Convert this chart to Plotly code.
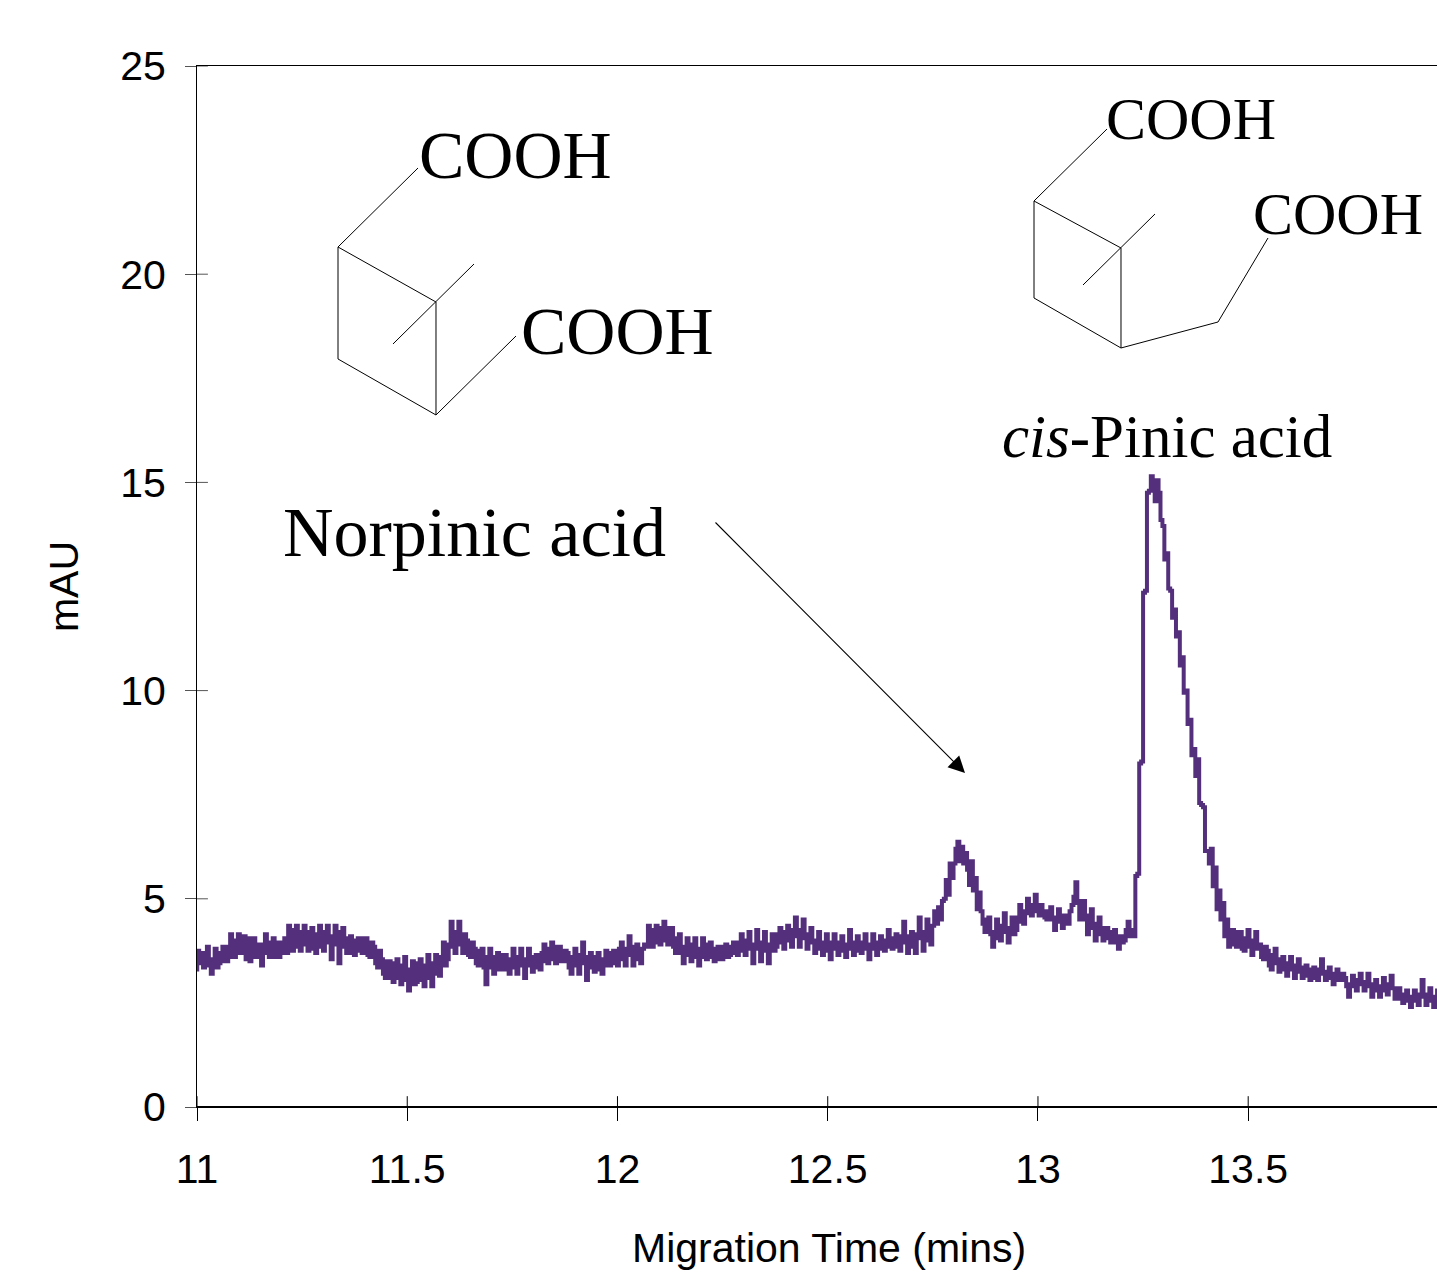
import plotly.graph_objects as go

# Electropherogram: absorbance (mAU) at a regular detector sampling
start_time = 10.996
sample_step = 0.0046
mau = [
    3.3,3.75,3.45,3.7,3.35,3.6,3.85,3.4,3.2,3.55,3.8,3.35,3.45,3.7,3.85,3.5,3.5,3.85,4.15,3.6,
    3.6,4.0,4.15,3.7,3.75,4.1,3.55,4.05,3.5,3.85,4.05,3.6,3.6,3.9,3.4,3.75,4.15,3.7,3.6,3.95,
    4.05,3.6,3.95,3.6,3.7,3.95,4.05,3.7,4.35,3.9,3.75,4.25,4.35,3.85,3.75,4.2,4.35,3.9,3.75,4.2,
    4.3,3.8,3.7,4.15,4.35,3.85,3.75,4.2,4.35,3.95,3.55,4.1,4.35,3.9,3.45,4.2,4.3,3.85,3.7,4.05,
    4.1,3.7,3.65,4.0,4.05,3.75,3.7,4.05,4.05,3.65,3.6,3.95,3.85,3.45,3.35,3.75,3.55,3.2,3.1,3.5,
    3.5,3.1,3.0,3.45,3.55,3.1,2.95,3.4,3.6,3.05,2.8,3.3,3.5,2.95,3.0,3.45,3.55,3.05,2.9,3.4,
    3.65,3.1,2.9,3.45,3.65,3.2,3.15,3.6,3.95,3.4,3.55,3.9,4.45,3.85,3.7,4.2,4.45,3.9,3.7,4.15,
    4.0,3.65,3.6,3.95,3.8,3.45,3.4,3.75,3.8,3.35,2.95,3.6,3.8,3.35,3.2,3.6,3.7,3.3,3.3,3.65,
    3.65,3.3,3.2,3.55,3.8,3.35,3.2,3.6,3.8,3.4,3.1,3.55,3.8,3.4,3.25,3.6,3.65,3.35,3.3,3.7,
    3.9,3.5,3.45,3.8,3.95,3.55,3.45,3.85,3.85,3.5,3.5,3.75,3.7,3.35,3.2,3.6,3.8,3.4,3.2,3.65,
    3.95,3.45,3.05,3.6,3.7,3.35,3.25,3.6,3.7,3.3,3.2,3.55,3.75,3.4,3.4,3.7,3.75,3.45,3.4,3.8,
    3.95,3.55,3.4,3.8,4.1,3.65,3.4,3.85,3.9,3.55,3.45,3.8,3.9,3.85,4.35,3.95,3.85,4.25,4.35,3.95,
    3.9,4.3,4.45,4.0,3.9,4.3,4.3,3.85,3.7,4.05,4.15,3.7,3.45,3.85,4.05,3.65,3.5,3.9,4.05,3.6,
    3.4,3.8,4.05,3.6,3.55,3.9,3.95,3.6,3.5,3.8,3.85,3.55,3.55,3.85,3.9,3.6,3.65,3.85,3.95,3.7,
    3.65,3.95,4.15,3.75,3.65,4.0,4.2,3.8,3.45,3.9,4.25,3.8,3.5,3.95,4.2,3.75,3.45,3.9,4.15,3.75,
    3.85,4.15,4.3,3.95,3.8,4.2,4.35,4.0,3.85,4.25,4.55,4.1,3.85,4.25,4.5,4.05,3.8,4.15,4.3,3.95,
    3.7,4.0,4.2,3.8,3.65,3.95,4.15,3.75,3.55,3.95,4.15,3.8,3.65,3.95,4.1,3.75,3.6,3.9,4.25,3.8,
    3.65,3.95,4.1,3.75,3.7,3.95,4.15,3.8,3.55,3.9,4.15,3.8,3.65,3.95,4.1,3.8,3.75,4.0,4.25,3.85,
    3.8,4.05,4.15,3.85,3.75,4.1,4.45,3.95,3.7,4.1,4.2,3.85,3.7,4.15,4.55,4.05,3.75,4.2,4.5,4.0,
    3.9,4.35,4.7,4.4,4.8,4.5,4.95,5.0,5.45,5.1,5.85,5.5,5.85,6.2,6.37,5.9,
    6.25,5.85,6.1,5.7,5.33,5.9,5.2,5.5,4.75,5.15,4.7,4.4,4.2,4.5,4.55,4.15,3.85,4.2,4.5,4.05,
    4.0,4.35,4.65,4.2,3.95,4.3,4.55,4.15,4.25,4.55,4.85,4.45,4.4,4.7,5.0,4.65,4.6,4.85,5.1,4.7,
    4.6,4.85,4.7,4.55,4.5,4.7,4.8,4.5,4.25,4.55,4.75,4.45,4.3,4.6,4.4,4.4,4.7,4.85,5.05,5.4,4.9,4.5,4.95,
    4.95,4.5,4.15,4.6,4.75,4.3,4.0,4.4,4.55,4.15,4.0,4.3,4.3,4.05,3.95,4.2,4.25,3.95,3.8,4.1,
    3.95,
    4.0,4.25,4.45,4.1,4.25,4.1,5.55,5.6,8.25,8.3,12.35,12.4,14.75,14.8,15.15,14.9,14.55,15.05,14.75,14.1,
    13.95,13.15,13.3,12.45,12.4,11.75,11.95,11.3,11.4,10.6,10.8,9.95,10.0,9.2,9.3,8.45,8.6,7.95,8.35,7.3,
    7.25,7.2,6.15,6.15,5.85,6.2,5.3,5.75,4.75,5.2,4.5,4.9,4.1,4.5,3.85,4.2,4.25,3.9,3.85,4.2,
    4.2,3.8,3.75,4.05,4.25,3.85,3.65,4.0,4.2,3.8,3.9,3.6,3.55,3.85,3.75,3.4,3.3,3.65,3.8,3.45,
    3.25,3.55,3.6,3.3,3.15,3.45,3.6,3.3,3.1,3.4,3.55,3.25,3.1,3.35,3.4,3.15,3.05,3.3,3.35,3.1,
    3.05,3.3,3.55,3.2,3.05,3.25,3.35,3.1,2.95,3.2,3.3,3.05,3.05,3.2,3.1,2.9,2.65,2.95,3.15,2.9,
    2.8,3.05,3.2,2.95,2.8,3.0,3.2,2.9,2.65,2.95,3.05,2.8,2.65,2.9,3.1,2.8,2.7,2.95,3.15,2.85,
    2.6,2.8,2.85,2.6,2.5,2.7,2.8,2.55,2.4,2.65,2.8,2.55,2.45,2.7,3.05,2.65,2.45,2.7,2.85,2.55,
    2.4,2.65,2.8,2.5,2.45,2.6,
]
times = [start_time + sample_step * i for i in range(len(mau))]

x_ticks = [11, 11.5, 12, 12.5, 13, 13.5]
x_tick_labels = ["11", "11.5", "12", "12.5", "13", "13.5"]
y_ticks = [0, 5, 10, 15, 20, 25]
y_tick_labels = ["0", "5", "10", "15", "20", "25"]

W, H = 1437, 1273
L, R, T, B = 197, 1437, 66, 1107
PW, PH = R - L, B - T
px = lambda v: (v - L) / PW
py = lambda v: (B - v) / PH

INK = "#000000"
TRACE = "#54307C"
SANS = "Liberation Sans, Arial, sans-serif"
SERIF = "Liberation Serif, Times New Roman, serif"
AXIS_FONT = 41

fig = go.Figure(go.Scatter(
    x=times, y=mau, mode="lines",
    line=dict(color=TRACE, width=4, shape="hv"),
    hoverinfo="skip", showlegend=False,
))

# Inner half of the axis ticks, which cross the axes in the original
shapes = []
for t in x_ticks:
    shapes.append(dict(type="line", xref="x", yref="y", x0=t, x1=t, y0=0, y1=0.26,
                       line=dict(color=INK, width=1), layer="above"))
for t in y_ticks:
    shapes.append(dict(type="line", xref="x", yref="y", x0=11, x1=11.026, y0=t, y1=t,
                       line=dict(color="#555555", width=1), layer="above"))
# The baseline is heavier than the frame
shapes.append(dict(type="line", xref="paper", yref="y", x0=0, x1=1, y0=0, y1=0,
                   line=dict(color=INK, width=2), layer="above"))

# Hand-drawn molecule sketches (pixel paths on the canvas)
sketches = [
    [(418, 168), (338, 247), (338, 359), (436, 415), (436, 302), (338, 247)],
    [(393, 344), (474, 264)],
    [(516, 336), (436, 415)],
    [(1107, 129), (1034, 201), (1034, 298), (1121, 348), (1121, 248), (1034, 201)],
    [(1083, 285), (1155, 214)],
    [(1121, 348), (1218, 322), (1268, 238)],
]
for pts in sketches:
    d = "M " + " L ".join(f"{px(a):.5f} {py(b):.5f}" for a, b in pts)
    shapes.append(dict(type="path", xref="paper", yref="paper", path=d,
                       line=dict(color=INK, width=1)))

labels = [
    ("COOH", 417, 155, 68),
    ("COOH", 519, 331, 68),
    ("COOH", 1104, 119, 60),
    ("COOH", 1251, 214, 60),
    ("Norpinic acid", 281, 532, 70),
    ("<i>cis</i>-Pinic acid", 1000, 436, 61),
]
annotations = [
    dict(text=t, xref="paper", yref="paper", x=px(a), y=py(b), xanchor="left", yanchor="middle",
         showarrow=False, font=dict(family=SERIF, size=s, color=INK))
    for t, a, b, s in labels
]
annotations.append(dict(
    text="", xref="paper", yref="paper", x=px(965), y=py(773), ax=-251, ay=-252,
    showarrow=True, arrowhead=2, arrowsize=3, arrowwidth=1.1, arrowcolor=INK, standoff=0,
))
# Axis title sits right of the plot centre in the original
annotations.append(dict(
    text="Migration Time (mins)", xref="paper", yref="paper", x=px(829), y=py(1248),
    xanchor="center", yanchor="middle", showarrow=False,
    font=dict(family=SANS, size=AXIS_FONT, color=INK),
))

fig.update_layout(
    width=W, height=H, margin=dict(l=L, r=W - R, t=T, b=H - B),
    paper_bgcolor="white", plot_bgcolor="white", showlegend=False,
    shapes=shapes, annotations=annotations,
    font=dict(family=SANS, size=AXIS_FONT, color=INK),
    xaxis=dict(
        range=[11, 13.949], tickvals=x_ticks, ticktext=x_tick_labels, ticks="outside",
        ticklen=13, tickwidth=1, tickcolor=INK, showgrid=False, zeroline=False,
        showline=True, linecolor=INK, linewidth=1, mirror=True,
        tickfont=dict(size=AXIS_FONT), ticklabelstandoff=13,
    ),
    yaxis=dict(
        range=[0, 25], tickvals=y_ticks, ticktext=y_tick_labels, ticks="outside",
        ticklen=11, tickwidth=1, tickcolor="#555555", showgrid=False, zeroline=False,
        showline=True, linecolor=INK, linewidth=1,
        title=dict(text="mAU", standoff=28, font=dict(size=AXIS_FONT)),
        tickfont=dict(size=AXIS_FONT), ticklabelstandoff=11,
    ),
)

fig.write_html("out.html", config={"displayModeBar": False},
               post_script="document.body.style.margin='0';")
